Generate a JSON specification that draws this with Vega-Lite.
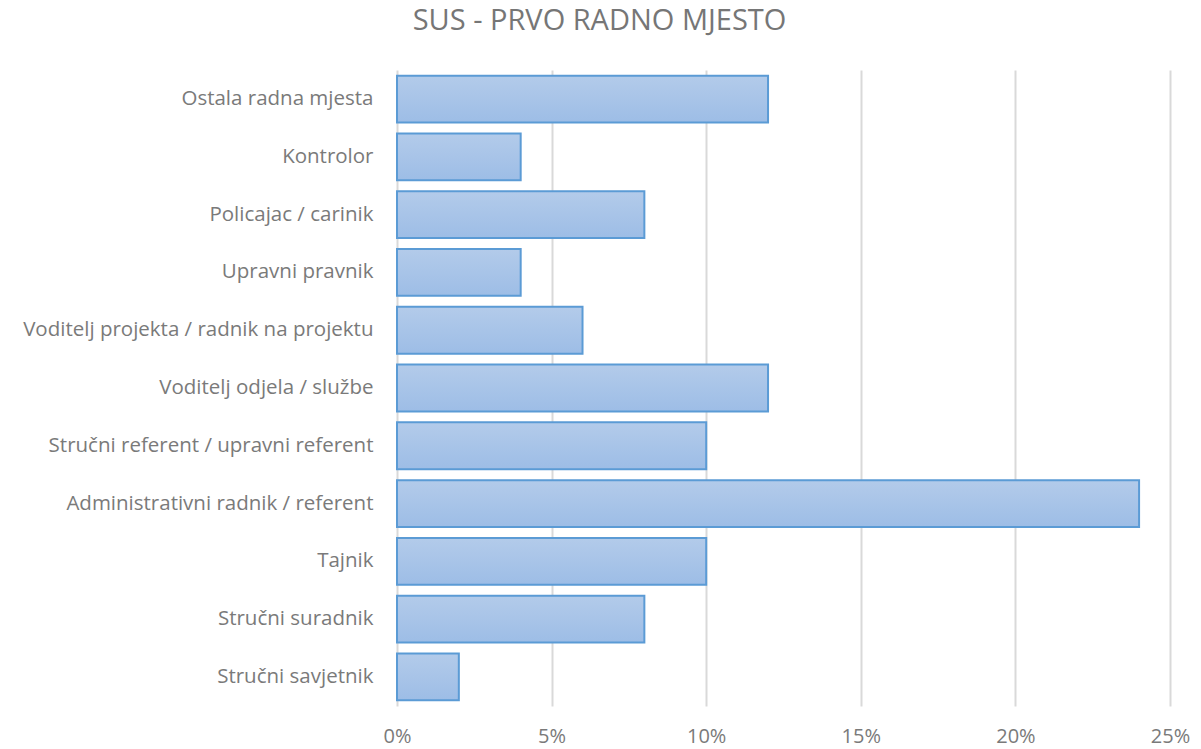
{
  "$schema": "https://vega.github.io/schema/vega-lite/v6.json",
  "width": 773,
  "height": 636,
  "autosize": {"type": "none"},
  "padding": {"left": 397, "top": 70, "right": 31, "bottom": 43},
  "background": "white",
  "title": {
    "text": "SUS - PRVO RADNO MJESTO",
    "font": "Open Sans",
    "fontSize": 29,
    "fontWeight": "normal",
    "color": "#767676",
    "anchor": "middle",
    "dx": -184,
    "offset": 34
  },
  "data": {
    "values": [
      {"kategorija": "Ostala radna mjesta", "udio": 0.12},
      {"kategorija": "Kontrolor", "udio": 0.04},
      {"kategorija": "Policajac / carinik", "udio": 0.08},
      {"kategorija": "Upravni pravnik", "udio": 0.04},
      {"kategorija": "Voditelj projekta / radnik na projektu", "udio": 0.06},
      {"kategorija": "Voditelj odjela / službe", "udio": 0.12},
      {"kategorija": "Stručni referent / upravni referent", "udio": 0.10},
      {"kategorija": "Administrativni radnik / referent", "udio": 0.24},
      {"kategorija": "Tajnik", "udio": 0.10},
      {"kategorija": "Stručni suradnik", "udio": 0.08},
      {"kategorija": "Stručni savjetnik", "udio": 0.02}
    ]
  },
  "mark": {
    "type": "bar",
    "stroke": "#5b9bd5",
    "strokeWidth": 2,
    "color": {
      "gradient": "linear",
      "x1": 0, "y1": 0, "x2": 0, "y2": 1,
      "stops": [
        {"offset": 0, "color": "#b3cbea"},
        {"offset": 1, "color": "#9dbde6"}
      ]
    }
  },
  "encoding": {
    "y": {
      "field": "kategorija",
      "type": "nominal",
      "sort": null,
      "scale": {"paddingInner": 0.19, "paddingOuter": 0.1},
      "axis": {
        "title": null,
        "domain": false,
        "ticks": false,
        "labelPadding": 24,
        "labelFont": "Open Sans",
        "labelFontSize": 20.5,
        "labelColor": "#7a7a7a",
        "labelLimit": 400
      }
    },
    "x": {
      "field": "udio",
      "type": "quantitative",
      "scale": {"domain": [0, 0.25], "nice": false},
      "axis": {
        "title": null,
        "format": ".0%",
        "values": [0, 0.05, 0.1, 0.15, 0.2, 0.25],
        "domain": false,
        "ticks": false,
        "grid": true,
        "gridColor": "#d9d9d9",
        "gridWidth": 2,
        "labelPadding": 20,
        "labelFont": "Open Sans",
        "labelFontSize": 20,
        "labelColor": "#7a7a7a",
        "labelFlush": false
      }
    }
  },
  "config": {"view": {"stroke": null}}
}
